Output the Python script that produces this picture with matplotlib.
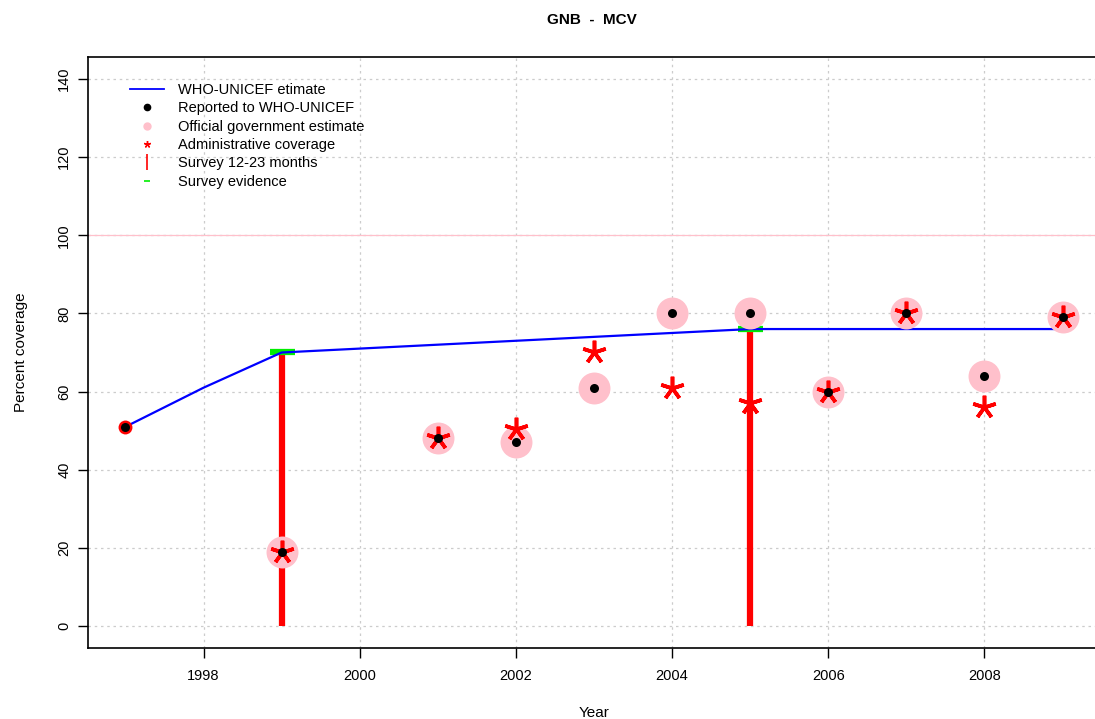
import matplotlib
matplotlib.use("Agg")
import matplotlib.pyplot as plt
from matplotlib.lines import Line2D

plt.rcParams['font.family'] = ['Liberation Sans', 'DejaVu Sans']

# WHO-UNICEF estimate
est_years = [1997, 1998, 1999, 2000, 2001, 2002, 2003, 2004, 2005, 2006, 2007, 2008, 2009]
est_vals = [51, 61, 70, 71, 72, 73, 74, 75, 76, 76, 76, 76, 76]

# Reported to WHO-UNICEF
rep_years = [1997, 1999, 2001, 2002, 2003, 2004, 2005, 2006, 2007, 2008, 2009]
rep_vals = [51, 19, 48, 47, 61, 80, 80, 60, 80, 64, 79]

# Official government estimate
gov_years = [1999, 2001, 2002, 2003, 2004, 2005, 2006, 2007, 2008, 2009]
gov_vals = [19, 48, 47, 61, 80, 80, 60, 80, 64, 79]

# Administrative coverage
adm_years = [1999, 2001, 2002, 2003, 2004, 2005, 2006, 2007, 2008, 2009]
adm_vals = [19, 48, 50.5, 70, 61, 57, 60, 80, 56, 79]

# Red circle point at start
red_years = [1997]
red_vals = [51]

# Survey 12-23 months
srv_years = [1999, 2005]
srv_vals = [70, 76]

# Survey evidence
evi_years = [1999, 2005]
evi_vals = [70, 76]

x_ticks = [1998, 2000, 2002, 2004, 2006, 2008]
y_ticks = [0, 20, 40, 60, 80, 100, 120, 140]

fig = plt.figure(figsize=(10.95, 7.19), dpi=100)
ax = fig.add_axes([88/1095, 1-648/719, 1012/1095, (648-57)/719])

ax.set_xlim(1996.52, 2009.48)
ax.set_ylim(-5.6, 145.6)

# grid
for xv in x_ticks:
    ax.axvline(xv, color='#cccccc', lw=0.9, ls=(0, (2, 3)), zorder=0)
for yv in y_ticks:
    ax.axhline(yv, color='#cccccc', lw=0.9, ls=(0, (2, 3)), zorder=0)
ax.axhline(100, color='#ffc0cb', lw=0.9, zorder=0.5)

# survey bars
ax.vlines(srv_years, 0, srv_vals, colors='red', lw=4.5, zorder=2)

# survey evidence
ax.plot(evi_years, evi_vals, ls='none', marker='_', ms=18, mew=4.5, color='#00ee00', zorder=2.5)

# estimate line
ax.plot(est_years, est_vals, color='blue', lw=1.6, zorder=3)

# official gov
ax.plot(gov_years, gov_vals, ls='none', marker='o', ms=23, color='#ffc0cb', mec='none', zorder=4)

# red circle
ax.plot(red_years, red_vals, ls='none', marker='o', ms=10, color='red', mec='none', zorder=4.5)

# admin
ax.plot(adm_years, adm_vals, ls='none', marker=(5, 2, 0), ms=17, mew=2.6, color='red', zorder=5)

# reported
ax.plot(rep_years, rep_vals, ls='none', marker='o', ms=6.5, color='black', mec='none', zorder=6)

ax.set_xticks(x_ticks)
ax.set_xticklabels([str(v) for v in x_ticks], fontsize=10.5)
ax.set_yticks(y_ticks)
ax.set_yticklabels([str(v) for v in y_ticks], fontsize=10.5, rotation=90, va='center')
ax.tick_params(axis='both', direction='out', length=7, width=1, color='black')
ax.tick_params(axis='x', pad=8)
ax.tick_params(axis='y', pad=5)

for s in ax.spines.values():
    s.set_linewidth(1.2)

ax.set_xlabel('Year', fontsize=11, labelpad=17)
ax.set_ylabel('Percent coverage', fontsize=11, labelpad=21)
fig.text(592/1095, 1-20/719, 'GNB  -  MCV', ha='center', va='center', fontsize=11, fontweight='bold')

handles = [
    Line2D([], [], color='blue', lw=1.3),
    Line2D([], [], ls='none', marker='o', ms=4.5, color='black'),
    Line2D([], [], ls='none', marker='o', ms=5, color='#ffc0cb'),
    Line2D([], [], ls='none', marker=(5, 2, 0), ms=5, mew=1, color='red'),
    Line2D([], [], ls='none', marker='|', ms=11, mew=1.2, color='red'),
    Line2D([], [], ls='none', marker='_', ms=4, mew=1.2, color='#00ee00'),
]
labels = ['WHO-UNICEF etimate', 'Reported to WHO-UNICEF', 'Official government estimate',
          'Administrative coverage', 'Survey 12-23 months', 'Survey evidence']
leg = ax.legend(handles, labels, loc='upper left', bbox_to_anchor=(0.036, 0.966), frameon=False,
                fontsize=10.5, handlelength=2.3, handletextpad=1.0, labelspacing=0.3,
                borderaxespad=0)

fig.savefig('out.png', dpi=100)
